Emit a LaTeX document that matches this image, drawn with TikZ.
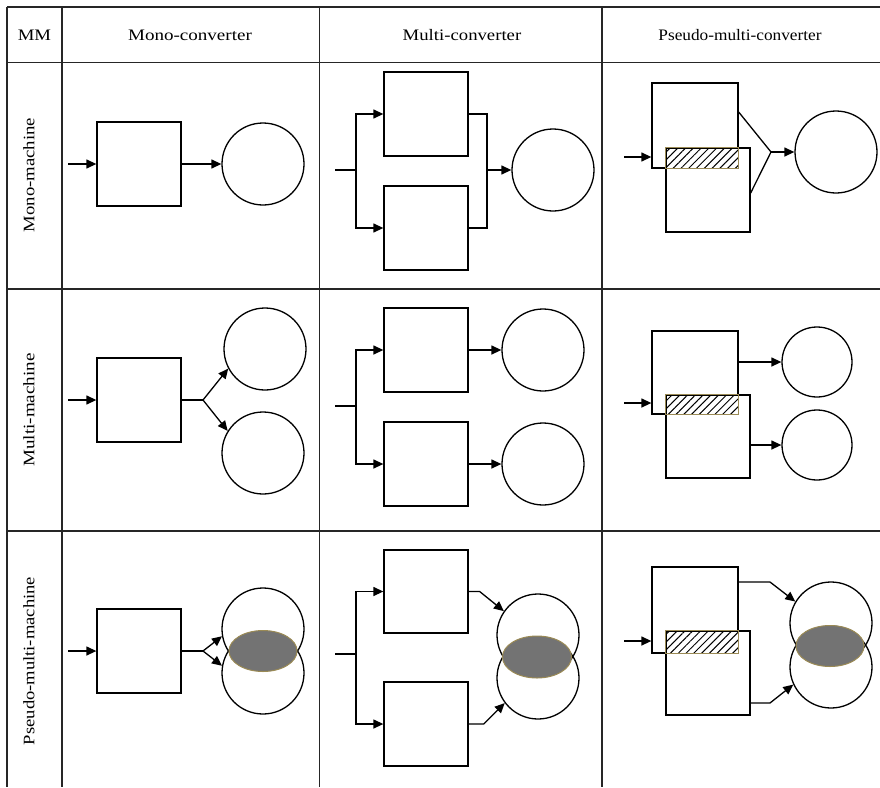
\documentclass[tikz,border=0pt]{standalone}
\usepackage{fontspec}
\setmainfont{Liberation Serif}
\usetikzlibrary{arrows.meta,shapes.geometric,patterns.meta,calc}
\definecolor{hatchborder}{HTML}{9A8A55}
\newcommand{\wtxt}[2][1.17]{\scalebox{#1}[1]{#2}}
\tikzset{
  tbl/.style={line width=1.6pt,black!85},
  ln/.style={line width=1.3pt,black},
  arr/.style={line width=1.3pt,black,-{Triangle[length=10pt,width=9pt]}},
  convbox/.style={rectangle,draw,line width=1.3pt,fill=white,inner sep=0pt,minimum width=84pt,minimum height=84pt},
  pbox/.style={rectangle,draw,line width=1.3pt,fill=white,inner sep=0pt},
  mach/.style={circle,draw,line width=1.3pt,inner sep=0pt,minimum size=82pt},
  smach/.style={circle,draw,line width=1.3pt,inner sep=0pt,minimum size=70pt},
  hatchbox/.style={draw=hatchborder,line width=1pt,fill=white,pattern={Lines[angle=45,distance=5.5pt,line width=1pt]}},
  overlap/.style={ellipse,draw=hatchborder,line width=1pt,fill=black!55,inner sep=0pt},
  lbl/.style={font=\fontsize{16}{19}\selectfont,inner sep=0pt}
}
\begin{document}
\begin{tikzpicture}[x=1pt,y=-1pt]
\useasboundingbox (0,0) rectangle (880,787);
% ---------- table ----------
\draw[tbl] (7,7) -- (880,7);
\draw[tbl] (7,62.5) -- (880,62.5);
\draw[tbl] (7,289) -- (880,289);
\draw[tbl] (7,531) -- (880,531);
\draw[tbl] (7,7) -- (7,787);
\draw[tbl] (62,7) -- (62,787);
\draw[tbl] (319.5,7) -- (319.5,787);
\draw[tbl] (602,7) -- (602,787);
% headers
\node[lbl] (hMM) at (34.5,35) {\wtxt{MM}};
\node[lbl] (hmono) at (190,35) {\wtxt[1.19]{Mono-converter}};
\node[lbl] (hmulti) at (462,35) {\wtxt{Multi-converter}};
\node[lbl] (hpseudo) at (740,35) {\wtxt[1.08]{Pseudo-multi-converter}};
\node[lbl,rotate=90] (rmono) at (29,175) {\wtxt{Mono-machine}};
\node[lbl,rotate=90] (rmulti) at (29,410) {\wtxt[1.19]{Multi-machine}};
\node[lbl,rotate=90] (rpseudo) at (29,661) {\wtxt[1.16]{Pseudo-multi-machine}};

% ================= Row 1 =================
% mono-converter
\coordinate (i11) at (68,164);
\node[convbox] (b11) at (139,164) {};
\node[mach] (c11) at (263,164) {};
\draw[arr] (i11) -- (b11.west);
\draw[arr] (b11.east) -- (c11.west);
% multi-converter
\coordinate (i12) at (335,170);
\coordinate (j12) at (356,170);
\coordinate (o12) at (487,170);
\node[convbox] (b12a) at (426,114) {};
\node[convbox] (b12b) at (426,228) {};
\node[mach] (c12) at (553,170) {};
\draw[ln] (i12) -- (j12);
\draw[arr] (j12) |- (b12a.west);
\draw[arr] (j12) |- (b12b.west);
\draw[ln] (b12a.east) -| (o12) |- (b12b.east);
\draw[arr] (o12) -- (c12.west);
% pseudo-multi-converter
\coordinate (i13) at (624,157);
\coordinate (a13) at (771,152);
\node[pbox,minimum width=86pt,minimum height=85pt] (p13a) at (695,125.5) {};
\node[pbox,minimum width=84pt,minimum height=84pt] (p13b) at (708,190) {};
\draw[hatchbox] (p13b.north west) rectangle (p13a.south east);
\node[mach] (c13) at (836,152) {};
\draw[arr] (i13) -- (i13 -| p13a.west);
\draw[ln] ([yshift=13.5pt]p13a.east) -- (a13) -- ([yshift=-3pt]p13b.east);
\draw[arr] (a13) -- (c13.west);

% ================= Row 2 =================
% mono-converter
\coordinate (i21) at (68,400);
\coordinate (s21) at (203,400);
\node[convbox] (b21) at (139,400) {};
\node[mach] (c21a) at (265,349) {};
\node[mach] (c21b) at (263,453) {};
\draw[arr] (i21) -- (b21.west);
\draw[ln] (b21.east) -- (s21);
\draw[arr] (s21) -- (c21a.208);
\draw[arr] (s21) -- (c21b.148);
% multi-converter
\coordinate (i22) at (335,406);
\coordinate (j22) at (356,406);
\node[convbox] (b22a) at (426,350) {};
\node[convbox] (b22b) at (426,464) {};
\node[mach] (c22a) at (543,350) {};
\node[mach] (c22b) at (543,464) {};
\draw[ln] (i22) -- (j22);
\draw[arr] (j22) |- (b22a.west);
\draw[arr] (j22) |- (b22b.west);
\draw[arr] (b22a.east) -- (c22a.west);
\draw[arr] (b22b.east) -- (c22b.west);
% pseudo-multi-converter
\coordinate (i23) at (624,403);
\node[pbox,minimum width=86pt,minimum height=83pt] (p23a) at (695,372.5) {};
\node[pbox,minimum width=84pt,minimum height=83pt] (p23b) at (708,436.5) {};
\draw[hatchbox] (p23b.north west) rectangle (p23a.south east);
\node[smach] (c23a) at (817,362) {};
\node[smach] (c23b) at (817,445) {};
\draw[arr] (i23) -- (i23 -| p23a.west);
\draw[arr] (p23a.east |- c23a) -- (c23a.west);
\draw[arr] (p23b.east |- c23b) -- (c23b.west);

% ================= Row 3 =================
% mono-converter
\coordinate (i31) at (68,651);
\coordinate (s31) at (203,651);
\node[convbox] (b31) at (139,651) {};
\node[mach] (c31a) at (263,629) {};
\node[mach] (c31b) at (263,673) {};
\node[overlap,minimum width=68pt,minimum height=41pt] (e31) at (263,651) {};
\draw[arr] (i31) -- (b31.west);
\draw[ln] (b31.east) -- (s31);
\draw[arr] (s31) -- (c31a.190);
\draw[arr] (s31) -- (c31b.170);
% multi-converter
\coordinate (i32) at (335,654);
\coordinate (j32) at (356,654);
\node[convbox,minimum height=83pt] (b32a) at (426,591.5) {};
\node[convbox] (b32b) at (426,724) {};
\node[mach] (c32a) at (538,635) {};
\node[mach] (c32b) at (538,678) {};
\node[overlap,minimum width=69pt,minimum height=42pt] (e32) at (537,657) {};
\draw[ln] (i32) -- (j32);
\draw[arr] (j32) |- (b32a.west);
\draw[arr] (j32) |- (b32b.west);
\draw[arr] (b32a.east) -- ++(11,0) -- (c32a.145);
\draw[arr] (b32b.east) -- ++(15,0) -- (c32b.217);
% pseudo-multi-converter
\coordinate (i33) at (624,641);
\coordinate (k33a) at (770,582);
\coordinate (k33b) at (770,703);
\node[pbox,minimum width=86pt,minimum height=86pt] (p33a) at (695,610) {};
\node[pbox,minimum width=84pt,minimum height=84pt] (p33b) at (708,673) {};
\draw[hatchbox] (p33b.north west) rectangle (p33a.south east);
\node[mach] (c33a) at (831,623) {};
\node[mach] (c33b) at (831,667) {};
\node[overlap,minimum width=68pt,minimum height=41pt] (e33) at (830,646) {};
\draw[arr] (i33) -- (i33 -| p33a.west);
\draw[arr] ([yshift=28pt]p33a.east) -- (k33a) -- (c33a.149);
\draw[arr] ([yshift=-30pt]p33b.east) -- (k33b) -- (c33b.205);
\end{tikzpicture}
\end{document}
